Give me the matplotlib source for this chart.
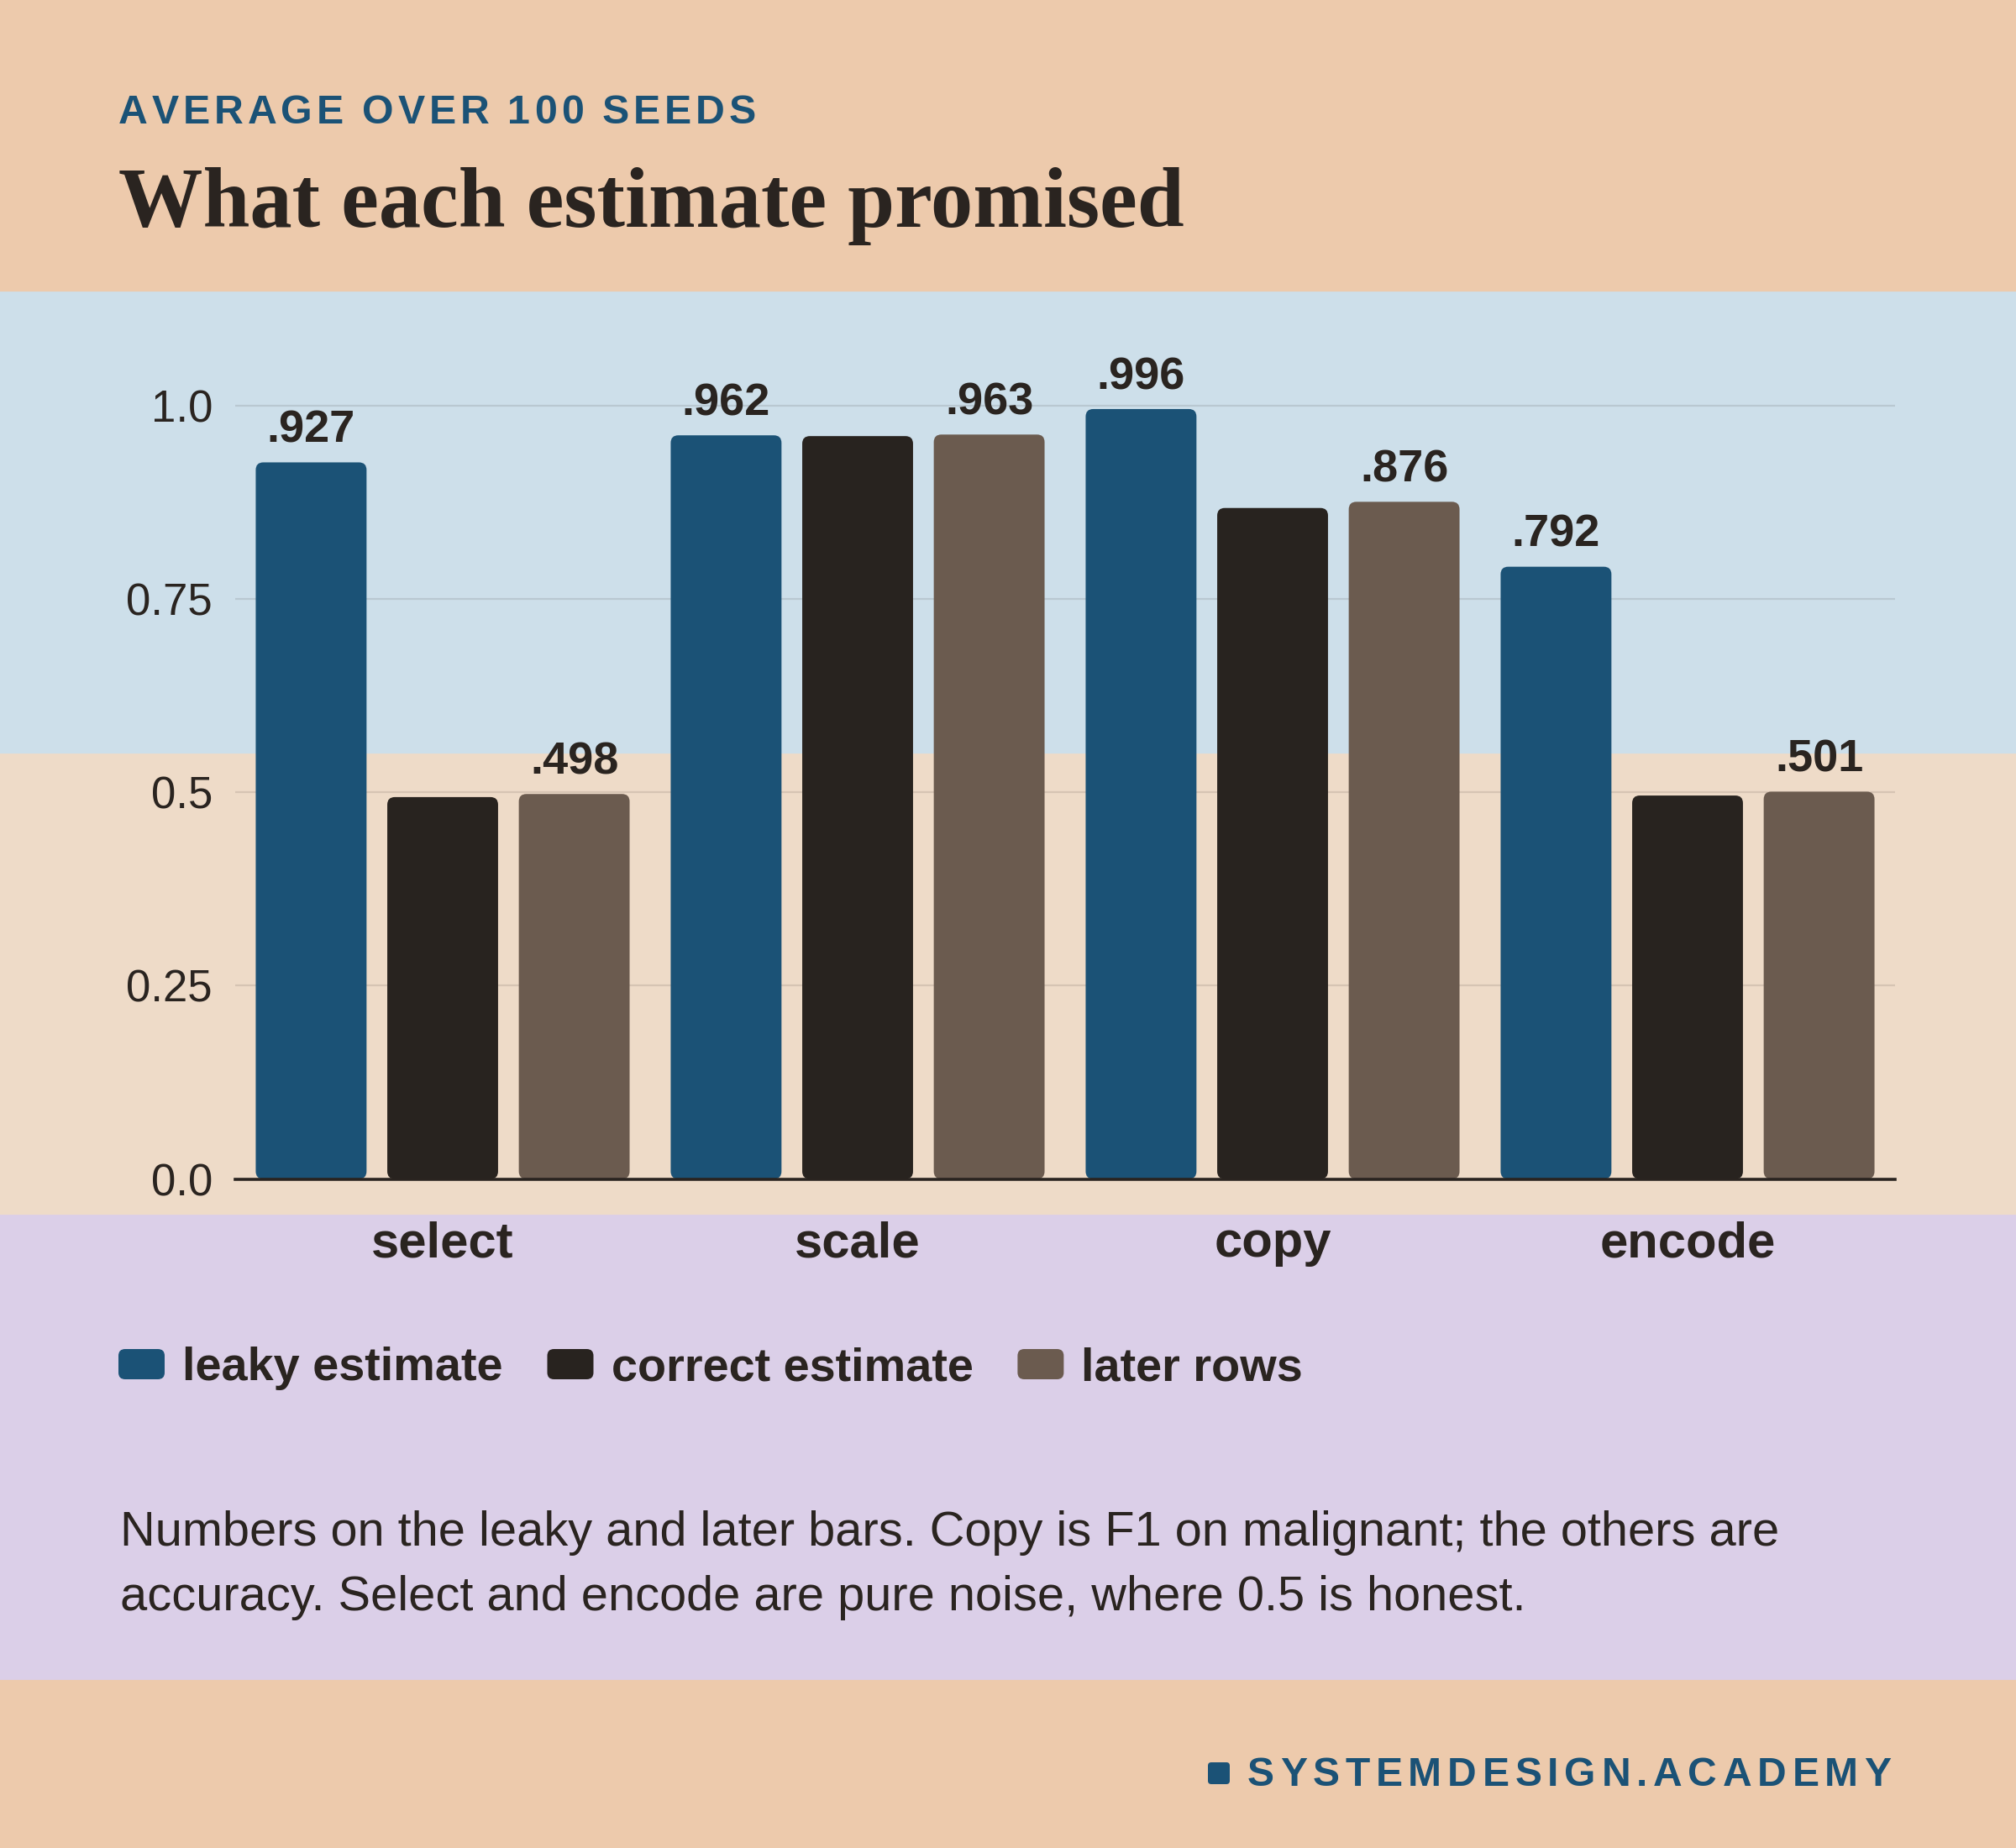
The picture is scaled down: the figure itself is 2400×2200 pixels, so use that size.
import numpy as np
import matplotlib.pyplot as plt
from matplotlib.patches import Rectangle, FancyBboxPatch
from matplotlib.transforms import IdentityTransform

# canvas (pixels) and colours
W, H, DPI = 2400, 2200, 200
PEACH = '#EDCAAC'
SKY = '#CDDFEA'
SAND = '#EEDBC8'
LILAC = '#DBCFE8'
INK = '#2A2420'
BLUE = '#1B5276'

# data
categories = ['select', 'scale', 'copy', 'encode']
leaky = [0.927, 0.962, 0.996, 0.792]
correct = [0.494, 0.961, 0.868, 0.496]
later = [0.498, 0.963, 0.876, 0.501]
series_names = ['leaky estimate', 'correct estimate', 'later rows']
series_colors = [BLUE, '#28231F', '#6B5B4F']
labelled = [True, False, True]
yticks = [0.0, 0.25, 0.5, 0.75, 1.0]
ytick_labels = ['0.0', '0.25', '0.5', '0.75', '1.0']

subtitle = 'AVERAGE OVER 100 SEEDS'
title = 'What each estimate promised'
footnote = ['Numbers on the leaky and later bars. Copy is F1 on malignant; the others are',
            'accuracy. Select and encode are pure noise, where 0.5 is honest.']
footer = 'SYSTEMDESIGN.ACADEMY'

plt.rcParams['font.family'] = ['Liberation Sans', 'DejaVu Sans']

fig = plt.figure(figsize=(W / DPI, H / DPI), dpi=DPI)
fig.patch.set_facecolor(PEACH)
r = fig.canvas.get_renderer()


def band(top, bottom, color):
    fig.add_artist(Rectangle((0, 1 - bottom / H), 1, (bottom - top) / H,
                             transform=fig.transFigure, color=color, zorder=-5))


band(348, 898, SKY)
band(898, 1447, SAND)
band(1447, 1998, LILAC)


def tracked(x0, x1, y, s, size, color):
    # letter-spaced text spread between x0 and x1 (pixels)
    widths = []
    for ch in s:
        if ch == ' ':
            widths.append(None)
            continue
        t = fig.text(0, 0, ch, fontsize=size, fontweight='bold')
        widths.append(t.get_window_extent(r).width)
        t.remove()
    space = 0.25 * size * DPI / 72
    ink = sum(space if w is None else w for w in widths)
    gap = (x1 - x0 - ink) / (len(s) - 1)
    x = x0
    for ch, w in zip(s, widths):
        if w is None:
            x += space + gap
            continue
        fig.text(x / W, 1 - y / H, ch, fontsize=size, fontweight='bold',
                 color=color, ha='left', va='baseline')
        x += w + gap


# header
tracked(141, 900, 147, subtitle, 17.4, BLUE)
fig.text(141 / W, 1 - 270 / H, title, family=['Liberation Serif', 'DejaVu Serif'],
         fontsize=36.2, fontweight='bold', color=INK, va='baseline')

# chart
ymax = 1.147
ax = fig.add_axes([280 / W, 1 - 1403.5 / H, 1976 / W, 1055.5 / H])
ax.patch.set_alpha(0)
ax.set_xlim(-0.5, len(categories) - 0.5)
ax.set_ylim(0, ymax)

x = np.arange(len(categories))
offsets = [-0.317, 0, 0.317]
width = 0.267
bb = ax.get_window_extent(r)
rx = 9 / (bb.width / len(categories))
aspect = (bb.width / len(categories)) / (bb.height / ymax)

for vals, off, col, lab in zip([leaky, correct, later], offsets, series_colors, labelled):
    bars = ax.bar(x + off, vals, width, color=col, zorder=3)
    for rect in bars:
        rect.set_visible(False)
        ax.add_patch(FancyBboxPatch((rect.get_x(), rect.get_y()), rect.get_width(), rect.get_height(),
                                    boxstyle=f'round,pad=0,rounding_size={rx}',
                                    mutation_aspect=aspect, fc=col, ec='none', zorder=3))
    if lab:
        for xi, v in zip(x + off, vals):
            ax.annotate(f'{v:.3f}'.lstrip('0'), (xi, v), xytext=(0, 8.6),
                        textcoords='offset points', ha='center', va='baseline',
                        fontsize=19.5, fontweight='bold', color=INK)

ax.set_yticks(yticks, ytick_labels)
ax.grid(axis='y', color=INK, alpha=0.12, lw=0.8)
ax.set_axisbelow(True)
for s in ['left', 'right', 'top']:
    ax.spines[s].set_visible(False)
ax.spines['bottom'].set_color(INK)
ax.spines['bottom'].set_linewidth(1.3)
ax.spines['bottom'].set_zorder(4)
ax.tick_params(axis='y', length=0, pad=9.7, labelsize=19, labelcolor=INK)
ax.set_xticks(x, categories)
ax.tick_params(axis='x', length=0, pad=18, labelsize=21.5, labelcolor=INK)
for lbl in ax.get_xticklabels():
    lbl.set_fontweight('bold')

# legend
lx = 141
for name, col in zip(series_names, series_colors):
    fig.add_artist(FancyBboxPatch((lx, H - 1642), 55, 36, boxstyle='round,pad=0,rounding_size=8',
                                  transform=IdentityTransform(), fc=col, ec='none'))
    t = fig.text((lx + 76) / W, 1 - 1643 / H, name, fontsize=20.1, fontweight='bold',
                 color=INK, va='baseline')
    lx = lx + 76 + t.get_window_extent(r).width + 53

# footnote
for i, line in enumerate(footnote):
    fig.text(143 / W, 1 - (1840 + 76.7 * i) / H, line, fontsize=20.8, color=INK, va='baseline')

# footer
fig.add_artist(FancyBboxPatch((1438, H - 2124), 26, 26, boxstyle='round,pad=0,rounding_size=4',
                              transform=IdentityTransform(), fc=BLUE, ec='none'))
tracked(1485, 2251, 2126, footer, 17.3, BLUE)

fig.savefig('out.png', dpi=DPI, facecolor=fig.get_facecolor())
